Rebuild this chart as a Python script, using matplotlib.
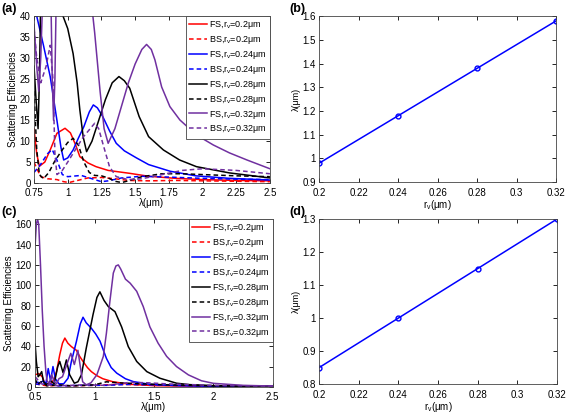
import matplotlib
matplotlib.use("Agg")
import matplotlib.pyplot as plt

plt.rcParams['font.family'] = ['Liberation Sans', 'DejaVu Sans']
plt.rcParams['mathtext.fontset'] = 'custom'
plt.rcParams['mathtext.rm'] = 'Liberation Sans'

# ---- panel (a) : scattering efficiencies, case 1 ----
a_fs02_x = [0.75, 0.77, 0.79, 0.83, 0.87, 0.92, 0.98, 1.02, 1.06, 1.09, 1.15, 1.21, 1.3, 1.46, 1.6, 1.8, 2.0, 2.25, 2.5]
a_fs02_y = [13, 7, 4, 5, 7.9, 11.9, 13.1, 12, 9, 6.3, 4.8, 3.9, 3.0, 2.3, 1.6, 1.1, 0.8, 0.6, 0.5]
a_bs02_x = [0.75, 0.77, 0.8, 0.85, 0.92, 0.97, 1.01, 1.06, 1.15, 1.25, 1.35, 1.45, 1.6, 1.8, 2.0, 2.25, 2.5]
a_bs02_y = [5, 3.5, 1.5, 1.0, 0.8, 0.3, 0.1, 0.5, 1.2, 1.3, 1.0, 0.6, 0.5, 0.6, 0.5, 0.4, 0.3]

a_fs024_x = [0.75, 0.77, 0.82, 0.87, 0.92, 0.95, 0.97, 1.0, 1.04, 1.08, 1.12, 1.16, 1.19, 1.22, 1.26, 1.31,
             1.36, 1.42, 1.51, 1.6, 1.76, 1.95, 2.2, 2.5]
a_fs024_y = [44, 40, 33, 25.5, 15, 8.5, 5.5, 6, 7.9, 10.8, 13.5, 17, 18.7, 18, 15.9, 12.5,
             9.5, 7.7, 6.0, 4.4, 2.8, 1.7, 1.1, 0.7]
a_bs024_x = [0.75, 0.8, 0.85, 0.885, 0.92, 0.96, 1.0, 1.1, 1.18, 1.25, 1.3, 1.4, 1.55, 1.75, 2.0, 2.25, 2.5]
a_bs024_y = [2.5, 4.5, 7, 8, 5.5, 2, 1.5, 1.8, 1.0, 0.3, 0.5, 1.2, 1.6, 1.4, 1.1, 0.9, 0.8]

a_fs028_x = [0.75, 0.765, 0.78, 0.79, 0.80, 0.9, 0.95, 0.965, 1.0, 1.04, 1.07, 1.09, 1.115, 1.14, 1.18, 1.23,
             1.28, 1.33, 1.38, 1.42, 1.46, 1.53, 1.6, 1.71, 1.83, 1.955, 2.2, 2.5]
a_fs028_y = [28, 20, 13, 25, 45, 60, 45, 40, 37, 31, 24, 17.5, 11, 7.5, 10, 15,
             20, 24, 25.5, 24.5, 22.7, 15.9, 11.1, 7.9, 5.5, 3.9, 2.4, 1.2]
a_bs028_x = [0.75, 0.77, 0.79, 0.82, 0.86, 0.9, 0.95, 1.0, 1.04, 1.08, 1.12, 1.16, 1.2, 1.25, 1.3, 1.35,
             1.4, 1.45, 1.55, 1.7, 1.85, 2.0, 2.25, 2.5]
a_bs028_y = [22, 8, 2, 1.0, 2.5, 5, 7.5, 9.7, 10.7, 9, 5, 2.5, 1.8, 1.7, 1.2, 0.4,
             0.1, 0.5, 1.5, 2.2, 2.2, 2.0, 1.7, 1.5]

a_fs032_x = [0.75, 0.77, 0.785, 0.80, 0.815, 0.85, 0.875, 0.885, 0.895, 0.905, 0.915, 1.0, 1.17, 1.2, 1.24,
             1.27, 1.30, 1.35, 1.4, 1.45, 1.5, 1.55, 1.585, 1.62, 1.647, 1.697, 1.758, 1.832, 1.955,
             2.08, 2.2, 2.33, 2.5]
a_fs032_y = [38, 28, 22, 30, 45, 60, 45, 25, 15, 25, 45, 60, 45, 36, 22,
             13, 9.5, 13, 18.5, 24, 28.5, 32, 33.2, 32, 29.5, 23, 18.3, 15.1, 11.5,
             9.1, 7.2, 5.5, 3.4]
a_bs032_x = [0.75, 0.77, 0.8, 0.84, 0.87, 0.89, 0.905, 0.92, 0.96, 1.0, 1.04, 1.115, 1.2, 1.23, 1.26, 1.31,
             1.36, 1.45, 1.55, 1.7, 1.85, 2.0, 2.25, 2.5]
a_bs032_y = [37, 30, 24, 28, 33, 25, 7, 2, 3, 5, 7.1, 11, 14.3, 13, 9.5, 3.9,
             1.5, 0.8, 1.0, 2.0, 3.0, 3.4, 3.0, 2.2]

# ---- panel (c) : scattering efficiencies, case 2 ----
c_fs02_x = [0.5, 0.53, 0.56, 0.58, 0.61, 0.64, 0.66, 0.68, 0.707, 0.73, 0.75, 0.775, 0.805, 0.847, 0.875,
            0.903, 0.94, 0.973, 1.02, 1.07, 1.155, 1.3, 1.5, 2.0, 2.5]
c_fs02_y = [12, 13, 10, 4, 2, 4, 8, 15, 31.5, 43, 48, 43, 39.6, 36, 30,
            25, 19, 15, 11, 8, 5, 2.5, 1.2, 0.5, 0.3]
c_bs02_x = [0.5, 0.55, 0.6, 0.7, 0.8, 1.0, 1.2, 1.4, 1.6, 2.0, 2.5]
c_bs02_y = [3, 2, 1, 1.5, 1, 1.5, 2.5, 2, 1.5, 1, 0.5]

c_fs024_x = [0.5, 0.54, 0.57, 0.59, 0.61, 0.63, 0.65, 0.67, 0.7, 0.74, 0.777, 0.805, 0.847, 0.88, 0.903,
             0.93, 0.973, 1.01, 1.046, 1.1, 1.14, 1.187, 1.26, 1.326, 1.466, 1.7, 2.0, 2.5]
c_fs024_y = [5, 4, 6, 3, 18, 6, 20, 8, 3, 3, 8.5, 25, 44.5, 62, 68.5,
             63, 57.7, 52, 45, 28, 19, 13.5, 8, 5.2, 2.5, 1.2, 0.7, 0.4]
c_bs024_x = [0.5, 0.55, 0.6, 0.65, 0.7, 0.9, 1.1, 1.3, 1.5, 2.0, 2.5]
c_bs024_y = [3, 2, 4, 2, 1, 1.5, 1.5, 2.5, 2, 1, 0.5]

c_fs028_x = [0.5, 0.51, 0.525, 0.54, 0.555, 0.57, 0.6, 0.63, 0.66, 0.69, 0.707, 0.735, 0.763, 0.79, 0.83,
             0.86, 0.89, 0.93, 0.987, 1.02, 1.045, 1.08, 1.116, 1.172, 1.228, 1.284, 1.355, 1.44, 1.55,
             1.69, 1.8, 2.0, 2.5]
c_fs028_y = [42, 25, 10, 12, 15, 5, 2, 6, 3, 20, 25, 14, 26.5, 12, 3.6,
             5, 12, 38, 71, 88, 93.5, 85, 79, 74, 59, 39.6, 25, 15, 8.5,
             3.6, 2.2, 1.2, 0.5]
c_bs028_x = [0.5, 0.52, 0.55, 0.6, 0.7, 0.8, 1.0, 1.1, 1.2, 1.4, 1.6, 2.0, 2.5]
c_bs028_y = [8, 2, 5, 1, 2, 1, 2, 5, 4, 3, 2, 1, 0.5]

c_fs032_x = [0.5, 0.51, 0.52, 0.53, 0.545, 0.56, 0.575, 0.59, 0.6, 0.62, 0.64, 0.66, 0.68, 0.7, 0.73,
             0.76, 0.8, 0.83, 0.86, 0.88, 0.9, 0.93, 0.97, 1.02, 1.074, 1.1, 1.13, 1.158, 1.18, 1.2, 1.22,
             1.26, 1.3, 1.355, 1.41, 1.466, 1.535, 1.607, 1.69, 1.79, 1.9, 2.0, 2.25, 2.5]
c_fs032_y = [140, 160, 165, 160, 120, 75, 40, 15, 6, 3, 12, 5, 3, 8, 10,
             20, 33, 22, 36, 20, 5, 2, 4, 12, 30, 53, 85, 112, 119, 120, 116,
             106, 102, 94, 79, 59, 43, 30, 20, 11.8, 6, 3.5, 1.5, 0.8]
c_bs032_x = [0.5, 0.55, 0.6, 0.7, 0.9, 1.1, 1.2, 1.3, 1.45, 1.6, 2.0, 2.5]
c_bs032_y = [10, 3, 2, 1, 2, 1.5, 3, 4.5, 4, 3, 1.5, 0.8]

# ---- panels (b), (d) : resonance wavelength vs radius ----
rv = [0.2, 0.24, 0.28, 0.32]
lam_b = [0.98, 1.18, 1.38, 1.58]
lam_d = [0.85, 1.00, 1.15, 1.30]

radii = ['0.2', '0.24', '0.28', '0.32']
colors = ['#ff0000', '#0000ff', '#000000', '#7030a0']

a_fs = [(a_fs02_x, a_fs02_y), (a_fs024_x, a_fs024_y), (a_fs028_x, a_fs028_y), (a_fs032_x, a_fs032_y)]
a_bs = [(a_bs02_x, a_bs02_y), (a_bs024_x, a_bs024_y), (a_bs028_x, a_bs028_y), (a_bs032_x, a_bs032_y)]
c_fs = [(c_fs02_x, c_fs02_y), (c_fs024_x, c_fs024_y), (c_fs028_x, c_fs028_y), (c_fs032_x, c_fs032_y)]
c_bs = [(c_bs02_x, c_bs02_y), (c_bs024_x, c_bs024_y), (c_bs028_x, c_bs028_y), (c_bs032_x, c_bs032_y)]

FS = 7


def style(ax):
    ax.tick_params(direction='in', top=True, right=True, labelsize=FS, length=3, width=0.6)
    ax.tick_params(axis='x', pad=4)
    ax.tick_params(axis='y', pad=2.5)
    for s in ax.spines.values():
        s.set_linewidth(0.6)
        s.set_color('#444444')


def spectra(ax, fs, bs):
    for i in range(4):
        ax.plot(fs[i][0], fs[i][1], color=colors[i], lw=1.1,
                label=r'FS,r$_\mathrm{v}$=%s$\mathrm{\mu}$m' % radii[i])
        ax.plot(bs[i][0], bs[i][1], color=colors[i], lw=1.1, ls=(0, (3, 2)),
                label=r'BS,r$_\mathrm{v}$=%s$\mathrm{\mu}$m' % radii[i])
    leg = ax.legend(loc='upper right', fontsize=6.5, handlelength=2.0, handletextpad=0.2,
                    labelspacing=0.32, borderpad=0.35, borderaxespad=0.0, fancybox=False,
                    framealpha=1.0)
    leg.get_frame().set_edgecolor('#444444')
    leg.get_frame().set_linewidth(0.6)
    ax.set_ylabel('Scattering Efficiencies', fontsize=FS, labelpad=1)
    ax.set_xlabel('λ(μm)', fontsize=FS, labelpad=0)
    style(ax)


fig = plt.figure(figsize=(5.67, 4.12), dpi=100)

ax_a = fig.add_axes([0.060, 0.556, 0.416, 0.405])
spectra(ax_a, a_fs, a_bs)
ax_a.set_xlim(0.75, 2.5)
ax_a.set_ylim(0, 40)
ax_a.set_xticks([0.75, 1, 1.25, 1.5, 1.75, 2, 2.25, 2.5])
ax_a.set_xticklabels(['0.75', '1', '1.25', '1.5', '1.75', '2', '2.25', '2.5'])
ax_a.set_yticks(range(0, 41, 5))

ax_c = fig.add_axes([0.062, 0.061, 0.419, 0.407])
spectra(ax_c, c_fs, c_bs)
ax_c.set_xlim(0.5, 2.5)
ax_c.set_ylim(0, 165)
ax_c.set_xticks([0.5, 1, 1.5, 2, 2.5])
ax_c.set_xticklabels(['0.5', '1', '1.5', '2', '2.5'])
ax_c.set_yticks(range(0, 161, 20))

ax_b = fig.add_axes([0.563, 0.558, 0.418, 0.403])
ax_b.plot(rv, lam_b, color='#0000ff', lw=1.1, marker='o', ms=3.5, mfc='none', mew=1.0)
ax_b.set_xlim(0.2, 0.32)
ax_b.set_ylim(0.9, 1.6)
ax_b.set_xticks([0.2, 0.22, 0.24, 0.26, 0.28, 0.3, 0.32])
ax_b.set_xticklabels(['0.2', '0.22', '0.24', '0.26', '0.28', '0.3', '0.32'])
ax_b.set_yticks([0.9, 1.0, 1.1, 1.2, 1.3, 1.4, 1.5, 1.6])
ax_b.set_yticklabels(['0.9', '1', '1.1', '1.2', '1.3', '1.4', '1.5', '1.6'])
ax_b.set_ylabel('λ(μm)', fontsize=6.5, labelpad=1)
ax_b.set_xlabel(r'r$_\mathrm{v}$(μm)', fontsize=FS, labelpad=0)
style(ax_b)

ax_d = fig.add_axes([0.563, 0.068, 0.419, 0.400])
ax_d.plot(rv, lam_d, color='#0000ff', lw=1.1, marker='o', ms=3.5, mfc='none', mew=1.0)
ax_d.set_xlim(0.2, 0.32)
ax_d.set_ylim(0.8, 1.3)
ax_d.set_xticks([0.2, 0.22, 0.24, 0.26, 0.28, 0.3, 0.32])
ax_d.set_xticklabels(['0.2', '0.22', '0.24', '0.26', '0.28', '0.3', '0.32'])
ax_d.set_yticks([0.8, 0.9, 1.0, 1.1, 1.2, 1.3])
ax_d.set_yticklabels(['0.8', '0.9', '1', '1.1', '1.2', '1.3'])
ax_d.set_ylabel('λ(μm)', fontsize=6.5, labelpad=1)
ax_d.set_xlabel(r'r$_\mathrm{v}$(μm)', fontsize=FS, labelpad=0)
style(ax_d)

# panel letters
for txt, x, y in [('(a)', 0.002, 0.978), ('(b)', 0.510, 0.978), ('(c)', 0.002, 0.485), ('(d)', 0.510, 0.485)]:
    fig.text(x, y, txt, fontsize=9, fontweight='bold', va='center', ha='left')

fig.savefig('out.png', dpi=100)
